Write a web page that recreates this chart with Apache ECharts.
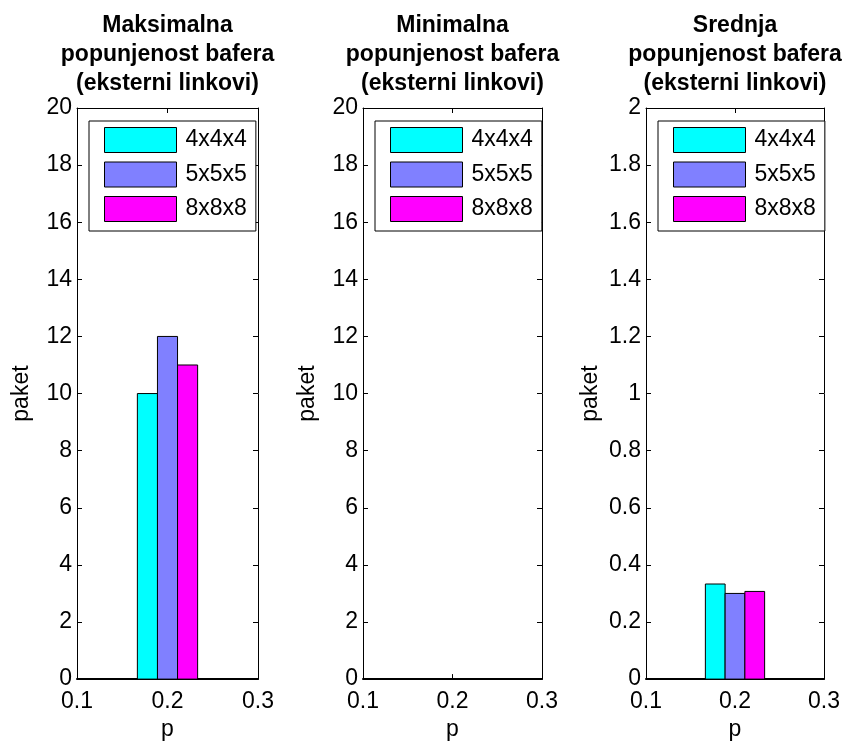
<!DOCTYPE html>
<html>
<head>
<meta charset="utf-8">
<script src="https://cdn.jsdelivr.net/npm/echarts@6/dist/echarts.min.js"></script>
<style>
  html, body { margin: 0; padding: 0; background: #fff; }
  #chart { width: 845px; height: 746px; }
</style>
</head>
<body>
<div id="chart"></div>
<script>
// Buffer occupancy on external links, by network size
const pValues = [0.2];
const seriesNames = ['4x4x4', '5x5x5', '8x8x8'];
const seriesColors = ['#00FFFF', '#8080FF', '#FF00FF'];
const maxOccupancy = [10, 12, 11];
const minOccupancy = [0, 0, 0];
const avgOccupancy = [0.333, 0.300, 0.307];

const panelTitles = [
  'Maksimalna\npopunjenost bafera\n(eksterni linkovi)',
  'Minimalna\npopunjenost bafera\n(eksterni linkovi)',
  'Srednja\npopunjenost bafera\n(eksterni linkovi)'
];
const panelValues = [maxOccupancy, minOccupancy, avgOccupancy];
const panelYMax = [20, 20, 2];
const panelYStep = [2, 2, 0.2];
const xTicks = { min: 0.1, max: 0.3, step: 0.1 };

// plot boxes in pixels
const boxes = [
  { left: 77, top: 108, width: 181, height: 574 },
  { left: 363, top: 108, width: 179, height: 574 },
  { left: 646, top: 108, width: 178, height: 574 }
];

const FONT = 'Liberation Sans, Arial, sans-serif';
const FS = 23;
const BAR_W = 0.0222; // bar width in p units

const chart = echarts.init(document.getElementById('chart'), null, { renderer: 'canvas' });

const grid = [], xAxis = [], yAxis = [], series = [], title = [], legend = [];

function fmt(v) { return String(+v.toFixed(1)); }

boxes.forEach((b, gi) => {
  grid.push({ left: b.left, top: b.top, width: b.width, height: b.height, containLabel: false });

  const tickCommon = { show: true, inside: true, length: 5, lineStyle: { color: '#000', width: 1 } };
  // bottom x axis
  xAxis.push({
    type: 'value', gridIndex: gi, position: 'bottom',
    min: xTicks.min, max: xTicks.max, interval: xTicks.step,
    name: 'p', nameLocation: 'middle', nameGap: 38,
    nameTextStyle: { fontFamily: FONT, fontSize: FS, color: '#000' },
    axisLine: { show: true, onZero: false, lineStyle: { color: '#000', width: 2 } },
    axisTick: tickCommon,
    axisLabel: { fontFamily: FONT, fontSize: FS, color: '#000', margin: 11, formatter: fmt },
    splitLine: { show: false }
  });
  // top x axis (ticks only)
  xAxis.push({
    type: 'value', gridIndex: gi, position: 'top',
    min: xTicks.min, max: xTicks.max, interval: xTicks.step,
    axisLine: { show: true, onZero: false, lineStyle: { color: '#000', width: 1 } },
    axisTick: tickCommon,
    axisLabel: { show: false },
    splitLine: { show: false }
  });
  // left y axis
  yAxis.push({
    type: 'value', gridIndex: gi, position: 'left',
    min: 0, max: panelYMax[gi], interval: panelYStep[gi],
    name: 'paket', nameLocation: 'middle', nameGap: 44, nameRotate: 90,
    nameTextStyle: { fontFamily: FONT, fontSize: FS, color: '#000' },
    axisLine: { show: true, onZero: false, lineStyle: { color: '#000', width: 1 } },
    axisTick: tickCommon,
    axisLabel: { fontFamily: FONT, fontSize: FS, color: '#000', margin: 5, formatter: fmt },
    splitLine: { show: false }
  });
  // right y axis (ticks only)
  yAxis.push({
    type: 'value', gridIndex: gi, position: 'right',
    min: 0, max: panelYMax[gi], interval: panelYStep[gi],
    axisLine: { show: true, onZero: false, lineStyle: { color: '#000', width: 1 } },
    axisTick: tickCommon,
    axisLabel: { show: false },
    splitLine: { show: false }
  });

  title.push({
    text: panelTitles[gi],
    left: b.left + b.width / 2, top: 11, padding: 0,
    textAlign: 'center',
    textStyle: { fontFamily: FONT, fontSize: FS, fontWeight: 'bold', color: '#000', lineHeight: 29 }
  });

  legend.push({
    data: seriesNames,
    orient: 'vertical',
    left: b.left + 12, top: 121,
    padding: [6, 9, 9, 15],
    itemWidth: 72, itemHeight: 25, itemGap: 8.5,
    icon: 'rect',
    backgroundColor: '#fff',
    borderColor: '#000', borderWidth: 1, borderRadius: 0,
    itemStyle: { borderColor: '#000', borderWidth: 1 },
    textStyle: { fontFamily: FONT, fontSize: FS, color: '#000', padding: [0, 0, 0, 4] },
    selectedMode: false
  });

  const values = panelValues[gi];
  seriesNames.forEach((name, k) => {
    series.push({
      type: 'custom',
      name: name,
      xAxisIndex: gi * 2,
      yAxisIndex: gi * 2,
      itemStyle: { color: seriesColors[k], borderColor: '#000', borderWidth: 1 },
      encode: { x: 0, y: 1 },
      data: pValues.map(p => [p, values[k]]),
      renderItem: function (params, api) {
        const x = api.value(0);
        const v = api.value(1);
        const l = x - 1.5 * BAR_W + k * BAR_W;
        const topLeft = api.coord([l, v]);
        const botRight = api.coord([l + BAR_W, 0]);
        return {
          type: 'rect',
          shape: {
            x: topLeft[0], y: topLeft[1],
            width: botRight[0] - topLeft[0],
            height: botRight[1] - topLeft[1]
          },
          style: { fill: seriesColors[k], stroke: '#000', lineWidth: 1 }
        };
      }
    });
  });
});

chart.setOption({
  animation: false,
  backgroundColor: '#fff',
  title, legend, grid, xAxis, yAxis, series
});
</script>
</body>
</html>
